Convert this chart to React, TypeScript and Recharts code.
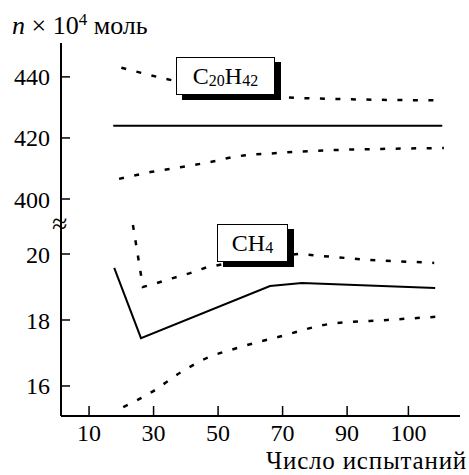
import { LineChart, Line, XAxis, YAxis } from 'recharts'

const FONT = 'Liberation Serif, Times New Roman, serif'

// x positions of the ticks; the last tick is printed as "100" in the original
const X_TICKS = [10, 30, 50, 70, 90, 109]
const X_TICK_LABELS = ['10', '30', '50', '70', '90', '100']
const X_DOMAIN = [1.3, 125]

const UPPER_TICKS = [400, 420, 440]
const LOWER_TICKS = [16, 18, 20]

// C20H42 (upper panel)
const C20_MEAN: [number, number][] = [[17.5, 424], [119.5, 424]]
const C20_HIGH: [number, number][] = [
  [20, 443], [34, 439.3], [50, 436], [70, 433.4], [85, 432.8], [100, 432.5], [118.5, 432.3],
]
const C20_LOW: [number, number][] = [
  [19.3, 406.6], [29.5, 408.9], [38.8, 410.5], [47.5, 412.1], [55, 413.8],
  [69, 415.1], [85, 416], [100, 416.4], [120, 416.7],
]

// CH4 (lower panel)
const CH4_MEAN: [number, number][] = [
  [17.8, 19.58], [26.1, 17.45], [66.1, 19.03], [76, 19.12], [117.3, 18.97],
]
const CH4_HIGH: [number, number][] = [
  [23.6, 20.88], [26.7, 19.0], [31, 19.12], [36, 19.27], [41.3, 19.42], [46.6, 19.6],
  [60, 19.85], [75, 20.0], [87, 19.9], [97, 19.82], [117, 19.73],
]
const CH4_LOW: [number, number][] = [
  [20.6, 15.36], [29.5, 15.82], [38.2, 16.4], [46.6, 16.85], [55.9, 17.15],
  [69.2, 17.5], [84.7, 17.88], [102.4, 18.0], [117.9, 18.1],
]

const pts = (a: [number, number][]) => a.map(([x, y]) => ({ x, y }))

const tickStyle = { fill: '#000', fontSize: 24, fontFamily: FONT }
const axisLine = { stroke: '#000', strokeWidth: 2 }
const tickLine = { stroke: '#000', strokeWidth: 1.5 }
const dash = '5 10.5'

const layer: React.CSSProperties = { position: 'absolute', left: 0, top: 0 }

const Box = ({ left, top, width, children }: { left: number; top: number; width: number; children: React.ReactNode }) => (
  <div
    style={{
      position: 'absolute', left, top, width, height: 38, boxSizing: 'border-box',
      border: '1.5px solid #000', background: '#fff', boxShadow: '6px 5px 0 #000',
      display: 'flex', alignItems: 'center', justifyContent: 'center',
      fontSize: 24, lineHeight: '24px',
    }}
  >
    {children}
  </div>
)

const Sub = ({ children }: { children: React.ReactNode }) => (
  <span style={{ fontSize: 16, position: 'relative', top: 5 }}>{children}</span>
)

export default function App() {
  return (
    <div style={{ position: 'absolute', left: 0, top: 0, width: 469, height: 475, background: '#fff', fontFamily: FONT, color: '#000' }}>
      <div style={layer}>
        <LineChart width={469} height={475} margin={{ top: 43, right: 9, bottom: 247, left: 0 }}>
          <XAxis type="number" dataKey="x" domain={X_DOMAIN} allowDataOverflow hide />
          <YAxis
            type="number" domain={[390.5, 451.1]} allowDataOverflow ticks={UPPER_TICKS}
            width={61} tickSize={-9} tickMargin={20}
            axisLine={axisLine} tickLine={tickLine} tick={tickStyle}
          />
          <Line data={pts(C20_HIGH)} dataKey="y" type="monotone" stroke="#000" strokeWidth={2.5} strokeDasharray={dash} dot={false} isAnimationActive={false} />
          <Line data={pts(C20_MEAN)} dataKey="y" type="linear" stroke="#000" strokeWidth={2} dot={false} isAnimationActive={false} />
          <Line data={pts(C20_LOW)} dataKey="y" type="monotone" stroke="#000" strokeWidth={2.5} strokeDasharray={dash} dot={false} isAnimationActive={false} />
        </LineChart>
      </div>

      <div style={layer}>
        <LineChart width={469} height={475} margin={{ top: 222, right: 9, bottom: 0, left: 0 }}>
          <XAxis
            type="number" dataKey="x" domain={X_DOMAIN} allowDataOverflow ticks={X_TICKS}
            tickFormatter={(v: number) => X_TICK_LABELS[X_TICKS.indexOf(v)] ?? String(v)}
            height={59} tickSize={-10} tickMargin={18}
            axisLine={axisLine} tickLine={tickLine} tick={tickStyle}
          />
          <YAxis
            type="number" domain={[15.09, 20.97]} allowDataOverflow ticks={LOWER_TICKS}
            width={61} tickSize={-9} tickMargin={20}
            axisLine={axisLine} tickLine={tickLine} tick={tickStyle}
          />
          <Line data={pts(CH4_HIGH)} dataKey="y" type="linear" stroke="#000" strokeWidth={2.5} strokeDasharray={dash} dot={false} isAnimationActive={false} />
          <Line data={pts(CH4_MEAN)} dataKey="y" type="linear" stroke="#000" strokeWidth={2} dot={false} isAnimationActive={false} />
          <Line data={pts(CH4_LOW)} dataKey="y" type="monotone" stroke="#000" strokeWidth={2.5} strokeDasharray={dash} dot={false} isAnimationActive={false} />
        </LineChart>
      </div>

      {/* axis break mark */}
      <div style={{ position: 'absolute', left: 52, top: 212, fontSize: 28, lineHeight: '24px' }}>≈</div>

      <div style={{ position: 'absolute', left: 12, top: 14, fontSize: 26, lineHeight: '24px', whiteSpace: 'nowrap' }}>
        <i>n</i> × 10<span style={{ fontSize: 17, position: 'relative', top: -9 }}>4</span> моль
      </div>

      <Box left={176} top={57} width={99}>C<Sub>20</Sub>H<Sub>42</Sub></Box>
      <Box left={217} top={224} width={71}>CH<Sub>4</Sub></Box>

      <div style={{ position: 'absolute', right: 2, top: 451, fontSize: 25, letterSpacing: 0.8, lineHeight: '20px', whiteSpace: 'nowrap' }}>
        Число испытаний
      </div>
    </div>
  )
}
